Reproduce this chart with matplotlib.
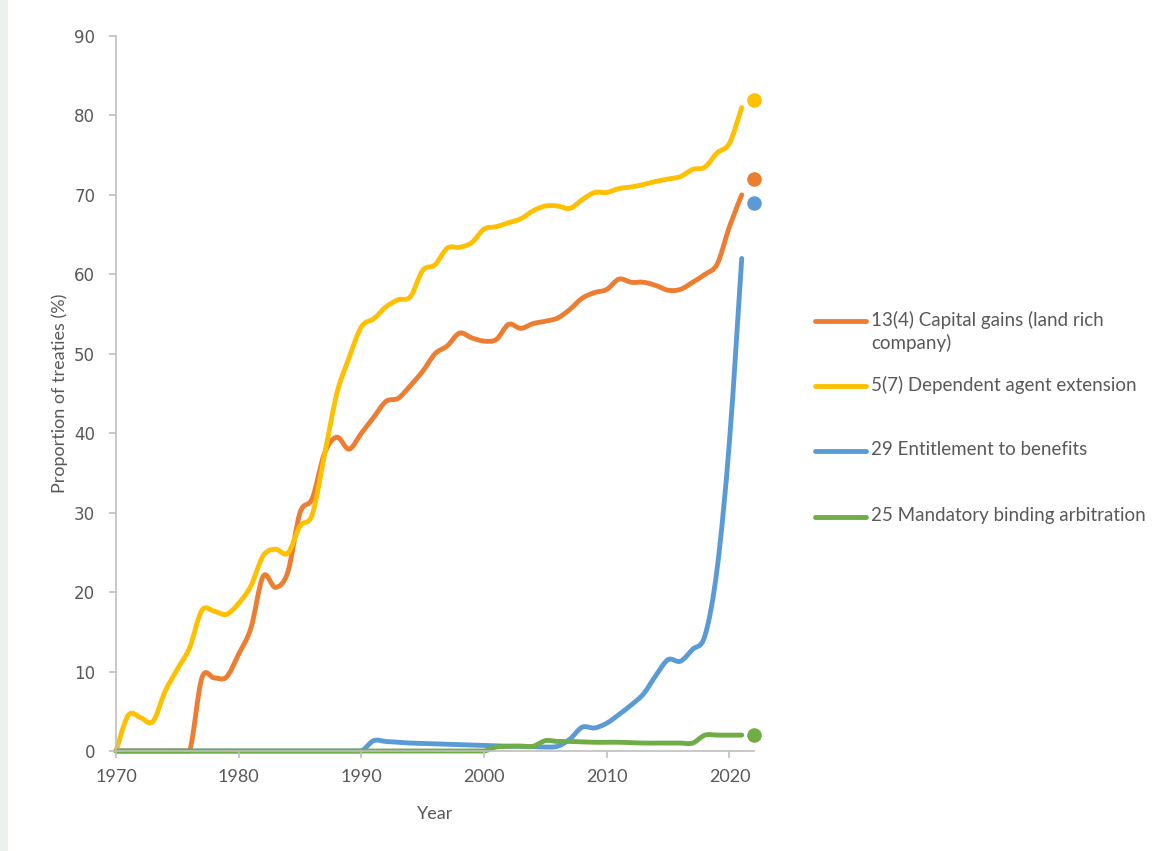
import numpy as np
import matplotlib
matplotlib.use("Agg")
import matplotlib.pyplot as plt
from matplotlib.path import Path
from matplotlib.patches import PathPatch, Rectangle
from matplotlib.lines import Line2D

years = list(range(1970, 2022))

capital_gains = [0, 0, 0, 0, 0, 0, 0, 9.2, 9.2, 9.3,
                 12.2, 15.5, 22.0, 20.6, 22.5, 30.0, 31.8, 37.5, 39.5, 38.0,
                 40.0, 42.0, 44.0, 44.4, 46.0, 47.8, 50.0, 51.0, 52.6, 52.0,
                 51.6, 51.8, 53.7, 53.2, 53.8, 54.1, 54.5, 55.6, 57.0, 57.7,
                 58.1, 59.4, 59.0, 59.0, 58.6, 58.0, 58.1, 59.0, 60.0, 61.3,
                 66.0, 70.0]
dependent_agent = [0, 4.5, 4.2, 3.7, 7.5, 10.3, 13.0, 17.7, 17.6, 17.2,
                   18.6, 20.8, 24.6, 25.4, 24.9, 28.3, 29.8, 37.3, 45.0, 49.5,
                   53.4, 54.4, 55.9, 56.8, 57.2, 60.5, 61.2, 63.3, 63.4, 64.0,
                   65.7, 66.0, 66.5, 67.0, 68.0, 68.6, 68.6, 68.3, 69.4, 70.3,
                   70.3, 70.8, 71.0, 71.3, 71.7, 72.0, 72.3, 73.2, 73.5, 75.3,
                   76.5, 81.0]
entitlement = [0] * 21 + [1.3, 1.2, 1.1, 1.0, 0.95, 0.9, 0.85, 0.8, 0.75,
                          0.7, 0.65, 0.6, 0.6, 0.55, 0.5, 0.6, 1.5, 3.0, 2.9,
                          3.5, 4.6, 5.8, 7.2, 9.5, 11.5, 11.3, 12.8, 14.5, 23.0,
                          39.0, 62.0]
arbitration = [0] * 31 + [0.5, 0.6, 0.6, 0.6, 1.3, 1.2, 1.2, 1.15, 1.1,
                          1.1, 1.1, 1.05, 1.0, 1.0, 1.0, 1.0, 1.0, 2.0, 2.0,
                          2.0, 2.0]

# 2022 values shown as single dots
dot_year = 2022
dot_values = [72, 82, 69, 2]

labels = ["13(4) Capital gains (land rich\ncompany)",
          "5(7) Dependent agent extension",
          "29 Entitlement to benefits",
          "25 Mandatory binding arbitration"]
colors = ["#ED7D31", "#FFC000", "#5B9BD5", "#70AD47"]
series = [capital_gains, dependent_agent, entitlement, arbitration]


def smooth_path(x, y):
    # Excel-like smoothed line: cubic bezier through every point
    n = len(x)
    verts = [(x[0], y[0])]
    codes = [Path.MOVETO]
    for i in range(n - 1):
        xa, ya = (x[i - 1], y[i - 1]) if i > 0 else (x[i], y[i])
        xb, yb = (x[i + 2], y[i + 2]) if i + 2 < n else (x[i + 1], y[i + 1])
        c1 = (x[i] + (x[i + 1] - xa) / 6, max(0, y[i] + (y[i + 1] - ya) / 6))
        c2 = (x[i + 1] - (xb - x[i]) / 6, max(0, y[i + 1] - (yb - y[i]) / 6))
        verts += [c1, c2, (x[i + 1], y[i + 1])]
        codes += [Path.CURVE4] * 3
    return Path(verts, codes)


grey = "#595959"
axcol = "#BFBFBF"

fig = plt.figure(figsize=(11.71, 8.51), dpi=100)
fig.add_artist(Rectangle((0, 0), 8 / 1171, 1, transform=fig.transFigure,
                         color="#EEF0EE", lw=0))
ax = fig.add_axes([116 / 1171, 100 / 851, 638 / 1171, 715 / 851])

for vals, c in zip(series, colors):
    p = PathPatch(smooth_path(years, vals), fill=False, edgecolor=c, lw=3.5,
                  capstyle="round", joinstyle="round", clip_on=False)
    ax.add_patch(p)

for v, c in zip(dot_values, colors):
    ax.plot([dot_year], [v], "o", color=c, ms=10.5, mec="none", clip_on=False)

ax.set_xlim(1970, 2022)
ax.set_ylim(0, 90)
ax.set_xticks(range(1970, 2021, 10))
ax.set_yticks(range(0, 91, 10))
for s in ["top", "right"]:
    ax.spines[s].set_visible(False)
for s in ["left", "bottom"]:
    ax.spines[s].set_color(axcol)
    ax.spines[s].set_linewidth(1.2)
ax.tick_params(axis="both", colors=axcol, length=5, width=1.2)
ax.tick_params(axis="y", labelcolor=grey, pad=10)
ax.tick_params(axis="x", labelcolor=grey, pad=8)
for t in ax.get_yticklabels():
    t.set_fontfamily("DejaVu Sans")
    t.set_fontsize(12)
for t in ax.get_xticklabels():
    t.set_fontfamily("Lato")
    t.set_fontsize(13)

ax.set_xlabel("Year", fontfamily="Lato", fontsize=13, color=grey, labelpad=15)
ax.set_ylabel("Proportion of treaties (%)", fontfamily="Lato", fontsize=13,
              color=grey, labelpad=4)

# legend on the right
leg_y = [321, 386, 451, 517]
for lab, c, yy in zip(labels, colors, leg_y):
    fy = 1 - yy / 851
    fig.add_artist(Line2D([815 / 1171, 866 / 1171], [fy, fy], color=c, lw=3.5,
                          solid_capstyle="round", transform=fig.transFigure))
    fig.text(871 / 1171, fy + 10 / 851, lab, fontfamily="Lato", fontsize=13.5,
             color=grey, va="top", ha="left", linespacing=1.35)

fig.savefig("out.png", dpi=100)
